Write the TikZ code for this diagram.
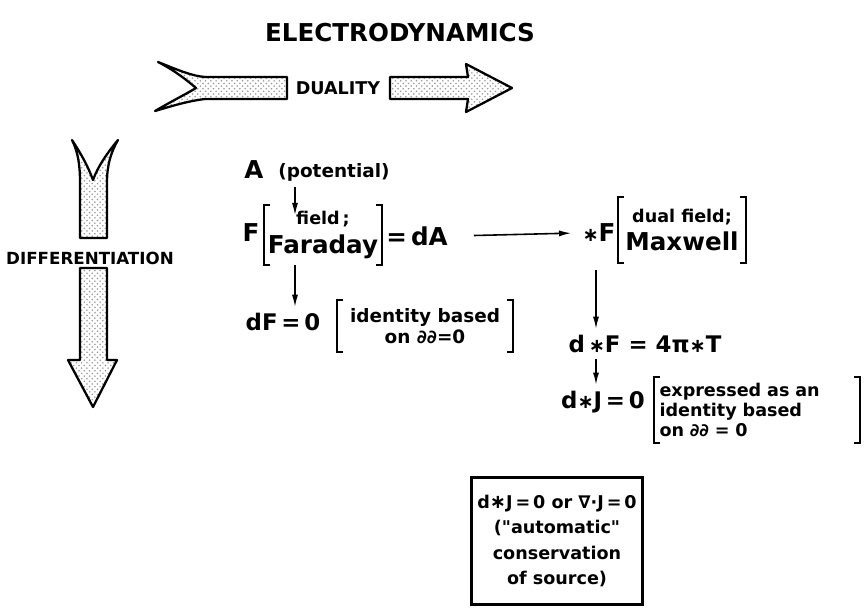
\documentclass[tikz,border=0pt]{standalone}
\usepackage{fontspec}
\setmainfont{DejaVu Sans}
\usetikzlibrary{arrows.meta,positioning,patterns}

\tikzset{
  stipple/.style={draw, line width=1.3pt, line join=round, pattern=crosshatch dots, pattern color=black!40},
  arr/.style={-{Latex[length=7pt,width=3.5pt]}, line width=0.9pt},
  brk/.style={line width=1.1pt},
  big/.style={font=\bfseries\fontsize{14}{16}\selectfont},
  mid/.style={font=\bfseries\fontsize{13}{15}\selectfont},
  lbl/.style={font=\bfseries\fontsize{10}{11.3}\selectfont},
}
\newcommand{\sqbrackets}[1]{%
  \draw[brk] ([xshift=1.2mm]#1.north west) -| (#1.south west) -- ++(1.2mm,0);
  \draw[brk] ([xshift=-1.2mm]#1.north east) -| (#1.south east) -- ++(-1.2mm,0);}
\newcommand{\hst}{{\fontsize{11}{11}\selectfont ∗}}

\begin{document}
\begin{tikzpicture}[x=0.2mm, y=-0.2mm]
  \useasboundingbox (0,0) rectangle (865,608);

  \node[font=\bfseries\fontsize{14}{18}\selectfont] (title) at (400,33) {ELECTRODYNAMICS};

  % big stippled arrows
  \draw[stipple] (158,62) .. controls (178,70) and (192,76) .. (205,77) -- (287,77) -- (287,99) -- (205,99)
    .. controls (188,101) and (172,106) .. (155,111) .. controls (172,101) and (188,93) .. (196,88)
    .. controls (188,81) and (174,70) .. (158,62) -- cycle;
  \node[lbl] (duality) at (338,88) {DUALITY};
  \draw[stipple] (390,77) -- (468,77) -- (466,64) -- (512,88) -- (466,112) -- (468,99) -- (390,99) -- cycle;

  \draw[stipple] (72,140) .. controls (78,152) and (80,165) .. (80,182) -- (80,238) -- (107,238) -- (107,182)
    .. controls (107,165) and (111,152) .. (118,140) .. controls (108,152) and (98,166) .. (93,180)
    .. controls (88,166) and (80,152) .. (72,140) -- cycle;
  \node[font=\bfseries\fontsize{9.5}{11}\selectfont] (diff) at (90,258) {DIFFERENTIATION};
  \draw[stipple] (80,268) -- (107,268) -- (107,360) -- (117,360) -- (93,407) -- (68,360) -- (80,360) -- cycle;

  % left column
  \node[big] (potA) at (254,170) {A};
  \node[lbl, font=\bfseries\fontsize{10.5}{12}\selectfont] (potLbl) at (334,172) {(potential)};
  \node[big] (fieldF) at (251,233) {F};
  \node[align=center, minimum width=23.4mm, minimum height=12mm, inner sep=0pt] (farad) at (323,235)
    {{\bfseries\fontsize{10}{12}\selectfont field\,;}\\[3pt]{\bfseries\fontsize{14}{16}\selectfont Faraday}};
  \node[big] (dA) at (417,236) {=\,dA};
  \node[mid] (eqdF) at (283,322) {dF\,=\,0};
  \node[lbl, font=\bfseries\fontsize{10.5}{12}\selectfont, align=center, minimum width=35mm,
    minimum height=10.4mm, inner sep=0pt] (ident) at (425,326) {identity based\\on ∂∂=0};

  % right column
  \node[big] (starF) at (599,233) {\hst F};
  \node[align=center, minimum width=25.4mm, minimum height=13mm, inner sep=0pt] (maxw) at (682,230)
    {{\bfseries\fontsize{10}{12}\selectfont dual field;}\\[3pt]{\bfseries\fontsize{14}{16}\selectfont Maxwell}};
  \node[mid] (eqdsF) at (645,344) {d\,\hst F = 4π\hst T};
  \node[mid] (eqdsJ) at (603,402) {d\hst J\,=\,0};
  \node[lbl, align=left, text width=39mm, inner xsep=1mm, minimum height=12.8mm] (expr) at (757,410)
    {expressed as an\\identity based\\on ∂∂ = 0};

  \node[draw, line width=1.6pt, align=center, font=\bfseries\fontsize{10}{14.5}\selectfont,
    minimum width=32mm, minimum height=25.4mm] (cons) at (557,541)
    {d\hst J\,=\,0 or ∇·J\,=\,0\\(\textquotedbl automatic\textquotedbl\\conservation\\of source)};

  \sqbrackets{farad}
  \sqbrackets{maxw}
  \sqbrackets{ident}
  \sqbrackets{expr}

  % connectors
  \coordinate (colA) at (295,0);
  \coordinate (colB) at (596,0);
  \draw[arr, shorten >=-6pt] (potLbl.south -| colA) -- (farad.north -| colA);
  \draw[arr] (farad.south -| colA) -- (eqdF.north -| colA);
  \draw[arr, shorten <=4mm, shorten >=1mm] (dA.east) -- (starF.west);
  \draw[arr, shorten <=1.5mm] (maxw.south -| colB) -- (eqdsF.north -| colB);
  \draw[arr] (eqdsF.south -| colB) -- (eqdsJ.north -| colB);
\end{tikzpicture}
\end{document}
